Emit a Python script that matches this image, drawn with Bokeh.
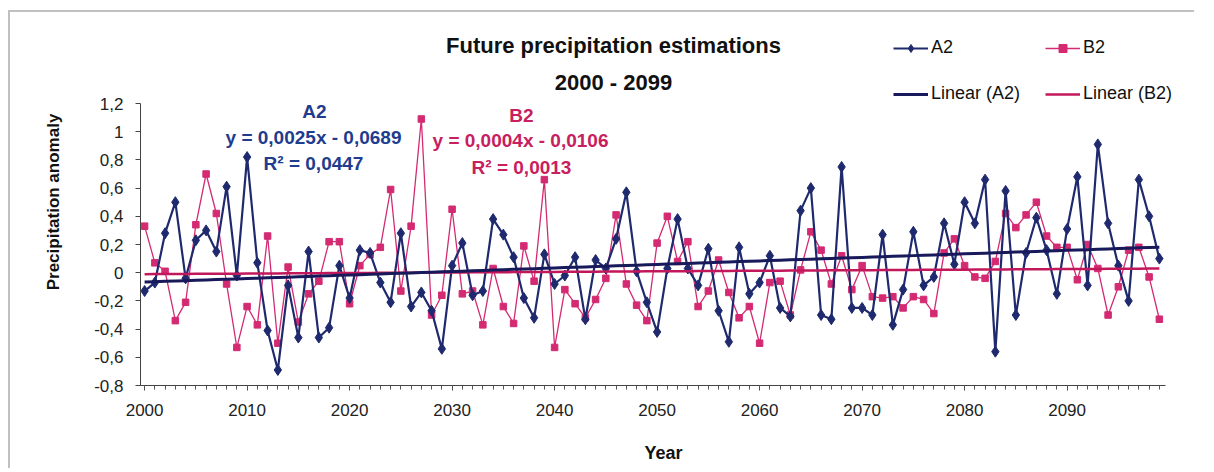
from bokeh.plotting import figure
from bokeh.models import (Range1d, FixedTicker, SingleIntervalTicker, CustomJSTickFormatter,
                          Label, Legend, LegendItem)
from bokeh.embed import file_html
from bokeh.resources import INLINE
import numpy as np

# ---------------- data ----------------
years = list(range(2000, 2100))

a2 = [-0.13, -0.07, 0.28, 0.50, -0.04, 0.23, 0.30, 0.15, 0.61, -0.02,
      0.82, 0.07, -0.41, -0.69, -0.09, -0.46, 0.15, -0.46, -0.39, 0.05,
      -0.18, 0.16, 0.14, -0.07, -0.21, 0.28, -0.24, -0.14, -0.27, -0.54,
      0.05, 0.21, -0.16, -0.13, 0.38, 0.27, 0.11, -0.18, -0.32, 0.13,
      -0.08, -0.02, 0.11, -0.33, 0.09, 0.03, 0.24, 0.57, 0.01, -0.21,
      -0.42, 0.03, 0.38, 0.03, -0.09, 0.17, -0.27, -0.49, 0.18, -0.15,
      -0.07, 0.12, -0.25, -0.31, 0.44, 0.60, -0.30, -0.33, 0.75, -0.25,
      -0.25, -0.30, 0.27, -0.37, -0.12, 0.29, -0.09, -0.03, 0.35, 0.06,
      0.50, 0.35, 0.66, -0.56, 0.58, -0.30, 0.14, 0.39, 0.16, -0.15,
      0.31, 0.68, -0.09, 0.91, 0.35, 0.05, -0.20, 0.66, 0.40, 0.10]

b2 = [0.33, 0.07, 0.01, -0.34, -0.21, 0.34, 0.70, 0.42, -0.08, -0.53,
      -0.24, -0.37, 0.26, -0.50, 0.04, -0.35, -0.15, -0.06, 0.22, 0.22,
      -0.22, 0.05, 0.13, 0.18, 0.59, -0.13, 0.33, 1.09, -0.30, -0.16,
      0.45, -0.15, -0.13, -0.37, 0.03, -0.24, -0.36, 0.19, -0.06, 0.66,
      -0.53, -0.12, -0.22, -0.32, -0.19, -0.04, 0.41, -0.08, -0.23, -0.34,
      0.21, 0.40, 0.08, 0.22, -0.24, -0.13, 0.09, -0.14, -0.32, -0.24,
      -0.50, -0.07, -0.06, -0.30, 0.02, 0.29, 0.16, -0.08, 0.12, -0.12,
      0.05, -0.17, -0.18, -0.17, -0.25, -0.17, -0.19, -0.29, 0.14, 0.24,
      0.05, -0.03, -0.04, 0.08, 0.42, 0.32, 0.41, 0.50, 0.26, 0.18,
      0.18, -0.05, 0.20, 0.03, -0.30, -0.10, 0.16, 0.18, -0.03, -0.33]

a2_fit = [0.0025, -0.0689]   # slope, intercept (x = 1..100)
b2_fit = [0.0004, -0.0106]
a2_r2 = "0,0447"
b2_r2 = "0,0013"

y_ticks = [-0.8, -0.6, -0.4, -0.2, 0.0, 0.2, 0.4, 0.6, 0.8, 1.0, 1.2]

title_lines = ["Future precipitation estimations", "2000 - 2099"]

# ---------------- colours / fonts ----------------
FONT = "Liberation Sans"
A2_COL = "#1f2a6e"
B2_COL = "#d42a72"
A2_TREND = "#17195a"
B2_TREND = "#c2185b"
A2_TXT = "#1f3c8e"
B2_TXT = "#c8205e"

# ---------------- geometry (picture pixels) ----------------
OX, OY = 10.0, 12.0                    # canvas origin as seen on the picture
W, H = 1186, 458
FL, FB = 140.0, 385.0                  # frame left / bottom (axis lines)
AX_R = 1165.0                          # right end of the x axis
FR = 1186.0                            # right edge of the (invisible) frame
FT_AXIS = 103.0                        # where the 1.2 tick sits
FT = 18.0                              # top of the (invisible) frame
X0, XA = 1999.6, 2099.6
PPX = (AX_R - FL) / (XA - X0)
X1 = XA + (FR - AX_R) / PPX
Y0, YA = -0.8, 1.2
PPU = (FB - FT_AXIS) / (YA - Y0)
Y1 = YA + (FT_AXIS - FT) / PPU

p = figure(width=W, height=H, output_backend="svg", toolbar_location=None,
           x_range=Range1d(X0, X1), y_range=Range1d(Y0, Y1),
           min_border_left=int(FL - OX), min_border_right=int(OX + W - FR),
           min_border_top=int(FT - OY), min_border_bottom=int(OY + H - FB),
           styles={"margin-left": "10px", "margin-top": "12px",
                   "box-shadow": "-2px -2px 0px 0px #c0c0c0"})
p.outline_line_color = None
p.border_line_color = None
p.xgrid.visible = False
p.ygrid.visible = False
p.background_fill_color = "white"
p.border_fill_color = "white"

def dx(px):
    return X0 + (px - FL) / PPX
def dy(py):
    return YA - (py - FT_AXIS) / PPU

# trend lines
idx = np.arange(1, len(years) + 1)
a2_tr = a2_fit[0] * idx + a2_fit[1]
b2_tr = b2_fit[0] * idx + b2_fit[1]

b2_line = p.line(years, b2, line_color=B2_COL, line_width=1.3)
b2_pts = p.scatter(years, b2, marker="square", size=6.5, fill_color=B2_COL, line_color=B2_COL)
a2_line = p.line(years, a2, line_color=A2_COL, line_width=2.2)
a2_pts = p.scatter(years, a2, marker="diamond", size=11, fill_color=A2_COL, line_color=A2_COL)
tb2 = p.line(years, b2_tr, line_color=B2_TREND, line_width=2.5)
ta2 = p.line(years, a2_tr, line_color=A2_TREND, line_width=3)

# axes
xa = p.xaxis[0]
xa.ticker = SingleIntervalTicker(interval=10, num_minor_ticks=10)
xa.bounds = (X0, XA)
xa.axis_label = "Year"
xa.axis_label_text_font = FONT
xa.axis_label_text_font_style = "bold"
xa.axis_label_text_font_size = "18px"
xa.axis_label_text_color = "#111111"
xa.axis_label_standoff = 24
xa.major_label_text_font = FONT
xa.major_label_text_font_size = "17px"
xa.major_label_text_color = "#222222"
xa.major_label_standoff = 13
xa.major_tick_in = 0
xa.major_tick_out = 5
xa.minor_tick_in = 0
xa.minor_tick_out = 4
xa.axis_line_color = "#444444"
xa.major_tick_line_color = "#444444"
xa.minor_tick_line_color = "#555555"

ya = p.yaxis[0]
ya.ticker = FixedTicker(ticks=y_ticks)
ya.bounds = (Y0, YA)
ya.formatter = CustomJSTickFormatter(code="""
    var s = tick.toFixed(1).replace('.', ',');
    if (s.endsWith(',0')) { s = s.slice(0, -2); }
    if (s == '-0') { s = '0'; }
    return s;
""")
ya.axis_label = "Precipitation anomaly"
ya.axis_label_text_font = FONT
ya.axis_label_text_font_style = "bold"
ya.axis_label_text_font_size = "17px"
ya.axis_label_text_color = "#111111"
ya.axis_label_standoff = 28
ya.major_label_text_font = FONT
ya.major_label_text_font_size = "17px"
ya.major_label_text_color = "#222222"
ya.major_label_standoff = 12
ya.major_tick_in = 0
ya.major_tick_out = 5
ya.minor_tick_line_color = None
ya.axis_line_color = "#444444"
ya.major_tick_line_color = "#444444"

# title
for txt, py in zip(title_lines, [45, 82]):
    p.add_layout(Label(x=dx(613), y=dy(py), text=txt, text_font=FONT, text_font_style="bold",
                       text_font_size="22px", text_align="center", text_baseline="middle",
                       text_color="#111111"))

# regression annotations
def eq(fit):
    s = ("%.4f" % fit[0]).replace(".", ",")
    i = ("%.4f" % abs(fit[1])).replace(".", ",")
    sign = "-" if fit[1] < 0 else "+"
    return "y = %sx %s %s" % (s, sign, i)

ann = [
    ("A2", 314, 111, A2_TXT),
    (eq(a2_fit), 313, 137, A2_TXT),
    ("R\u00b2 = " + a2_r2, 313, 163, A2_TXT),
    ("B2", 521, 115, B2_TXT),
    (eq(b2_fit), 520, 140, B2_TXT),
    ("R\u00b2 = " + b2_r2, 521, 167, B2_TXT),
]
for txt, px, py, col in ann:
    p.add_layout(Label(x=dx(px), y=dy(py), text=txt, text_font=FONT, text_font_style="bold",
                       text_font_size="19px", text_align="center", text_baseline="middle",
                       text_color=col))

# legends (two columns)
def make_legend(items, left_px):
    return Legend(items=items, location=(left_px - FL, FB - 104), orientation="vertical",
                  glyph_width=35, glyph_height=20, label_height=20, spacing=25,
                  label_standoff=3, padding=0, margin=0,
                  border_line_alpha=0, background_fill_alpha=0,
                  label_text_font=FONT, label_text_font_size="18px", label_text_color="#111111")

leg1 = make_legend([LegendItem(label="A2", renderers=[a2_line, a2_pts]),
                    LegendItem(label="Linear (A2)", renderers=[ta2])], 893)
leg2 = make_legend([LegendItem(label="B2", renderers=[b2_line, b2_pts]),
                    LegendItem(label="Linear (B2)", renderers=[tb2])], 1045)
p.add_layout(leg1, "center")
p.add_layout(leg2, "center")

open("out.html", "w").write(file_html(p, INLINE))
